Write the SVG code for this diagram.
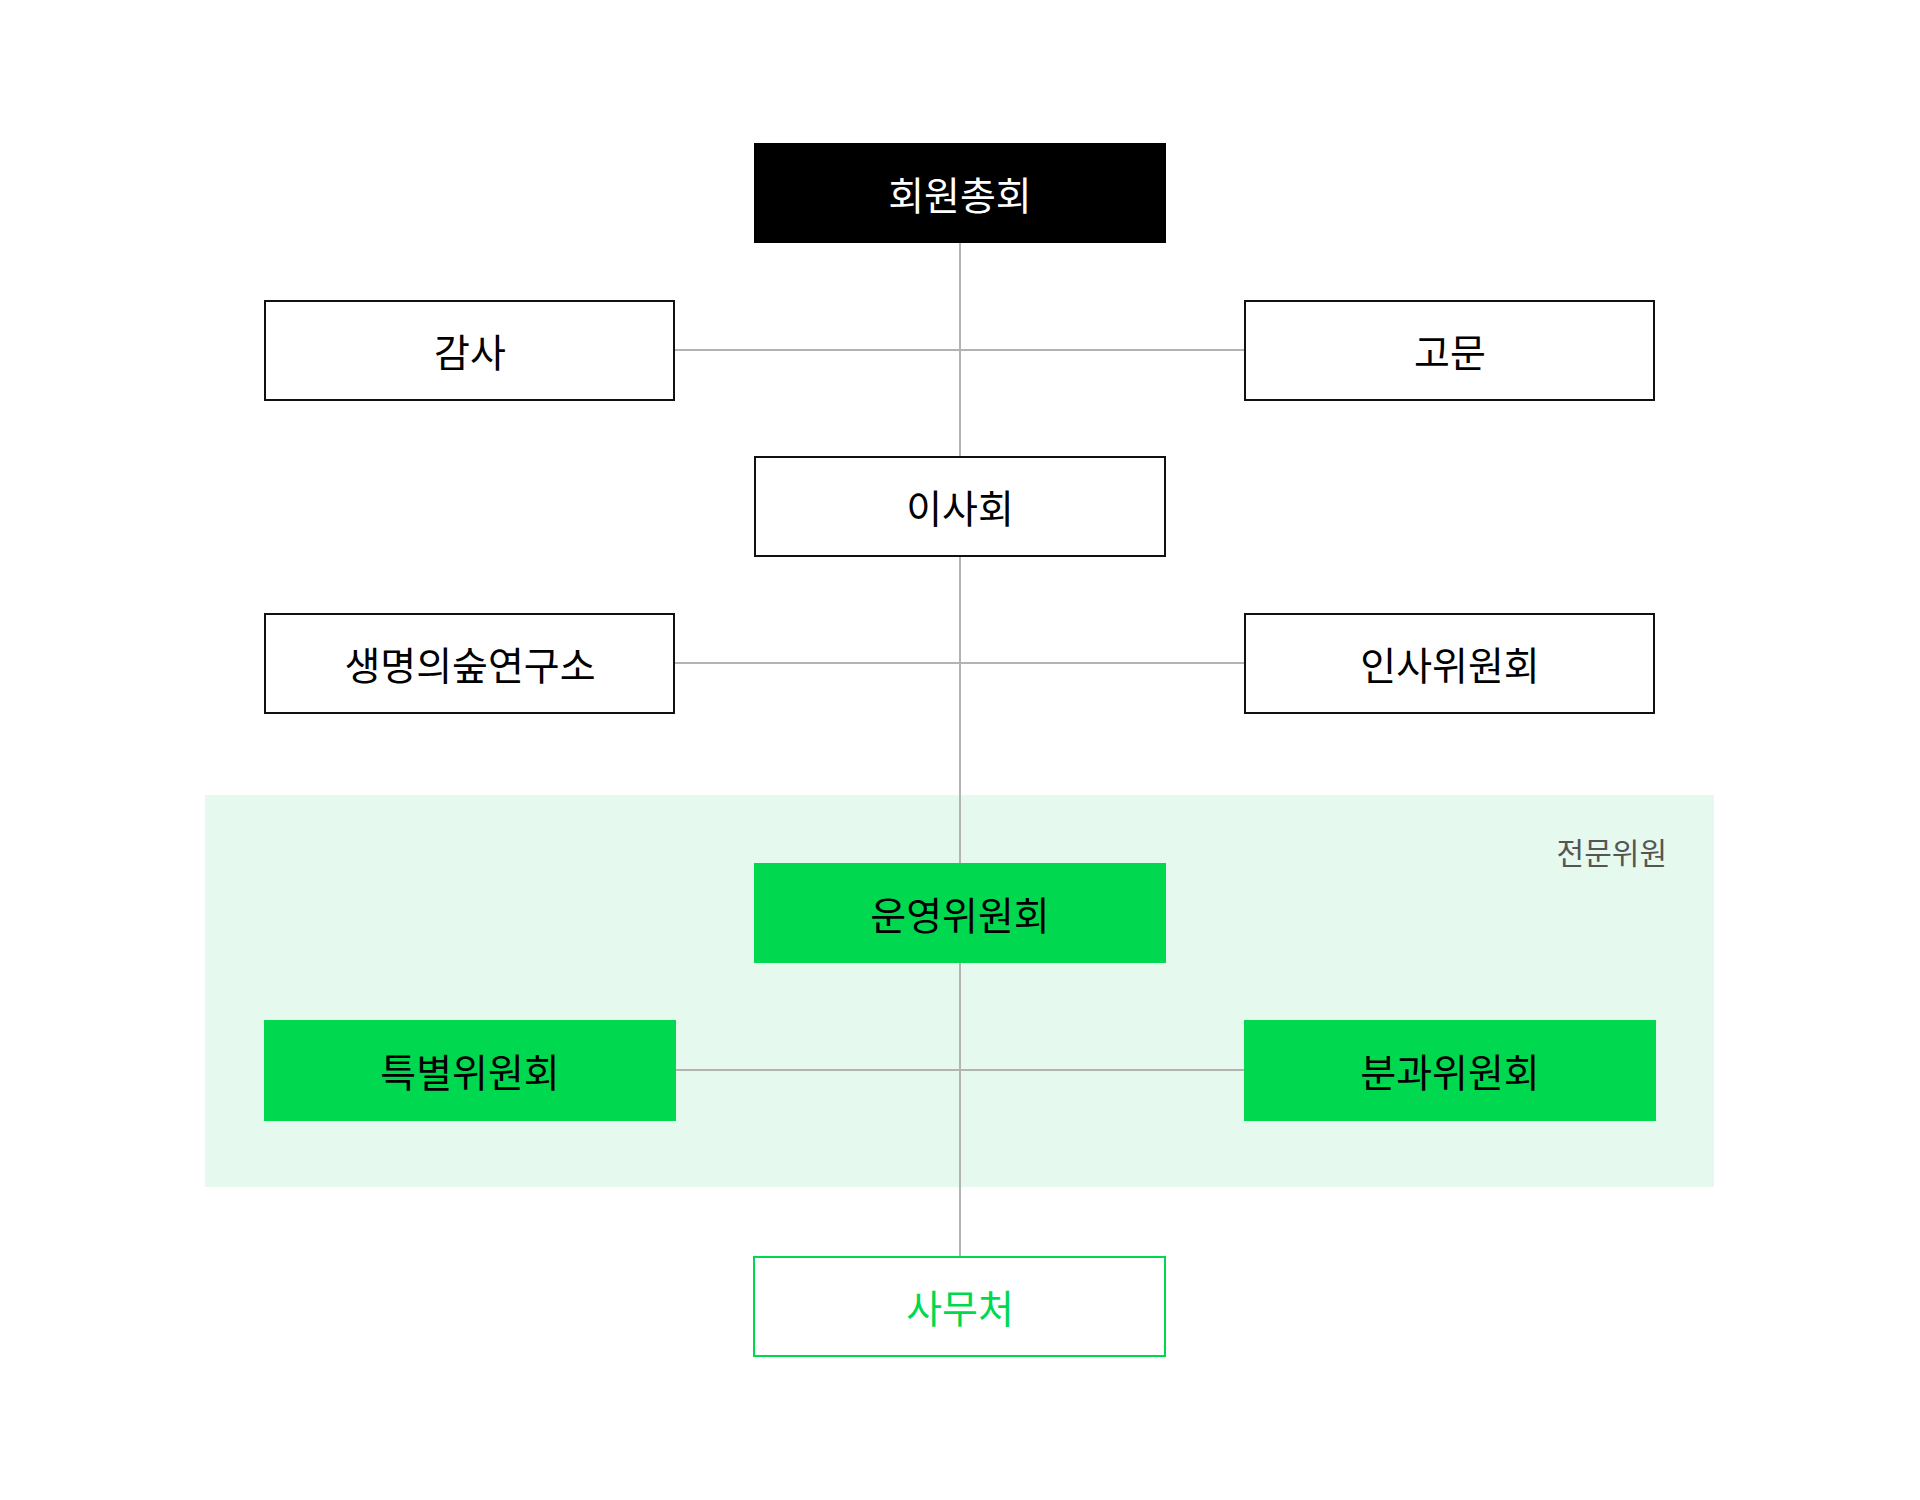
<svg xmlns="http://www.w3.org/2000/svg" width="1920" height="1500" viewBox="0 0 1920 1500">
<style>
.t{font-family:"Noto Sans CJK KR","Noto Sans",sans-serif;font-size:39px;font-weight:400;text-anchor:middle;dominant-baseline:central}
.line{stroke:#b3b3b3;stroke-width:2;fill:none}
.outline{fill:#fff;stroke:#111;stroke-width:2}
.green{fill:#00D94F}
</style>
<rect width="1920" height="1500" fill="#fff"/>
<g id="band">
<rect x="205" y="795" width="1509" height="392" fill="#E5F9EE"/>
<text x="1667" y="851" style="font-family:'Noto Sans CJK KR','Noto Sans',sans-serif;font-size:30px;fill:#555;text-anchor:end;dominant-baseline:central">전문위원</text>
</g>
<g id="connectors">
<line class="line" x1="960" y1="243" x2="960" y2="1256"/>
<line class="line" x1="675" y1="350" x2="1244" y2="350"/>
<line class="line" x1="675" y1="663" x2="1244" y2="663"/>
<line class="line" x1="676" y1="1070" x2="1244" y2="1070"/>
</g>
<g id="n-general">
<rect x="754" y="143" width="412" height="100" fill="#000"/>
<text class="t" x="960" y="193" fill="#fff">회원총회</text>
</g>
<g id="n-audit">
<rect class="outline" x="265" y="301" width="409" height="99"/>
<text class="t" x="470" y="350">감사</text>
</g>
<g id="n-advisor">
<rect class="outline" x="1245" y="301" width="409" height="99"/>
<text class="t" x="1450" y="350">고문</text>
</g>
<g id="n-board">
<rect class="outline" x="755" y="457" width="410" height="99"/>
<text class="t" x="960" y="506">이사회</text>
</g>
<g id="n-institute">
<rect class="outline" x="265" y="614" width="409" height="99"/>
<text class="t" x="470" y="663">생명의숲연구소</text>
</g>
<g id="n-hr">
<rect class="outline" x="1245" y="614" width="409" height="99"/>
<text class="t" x="1450" y="663">인사위원회</text>
</g>
<g id="n-steering">
<rect class="green" x="754" y="863" width="412" height="100"/>
<text class="t" x="960" y="913">운영위원회</text>
</g>
<g id="n-special">
<rect class="green" x="264" y="1020" width="412" height="101"/>
<text class="t" x="470" y="1070">특별위원회</text>
</g>
<g id="n-sub">
<rect class="green" x="1244" y="1020" width="412" height="101"/>
<text class="t" x="1450" y="1070">분과위원회</text>
</g>
<g id="n-office">
<rect x="754" y="1257" width="411" height="99" fill="#fff" stroke="#00D94F" stroke-width="2"/>
<text class="t" x="960" y="1306" fill="#00D94F" font-weight="500">사무처</text>
</g>
</svg>
